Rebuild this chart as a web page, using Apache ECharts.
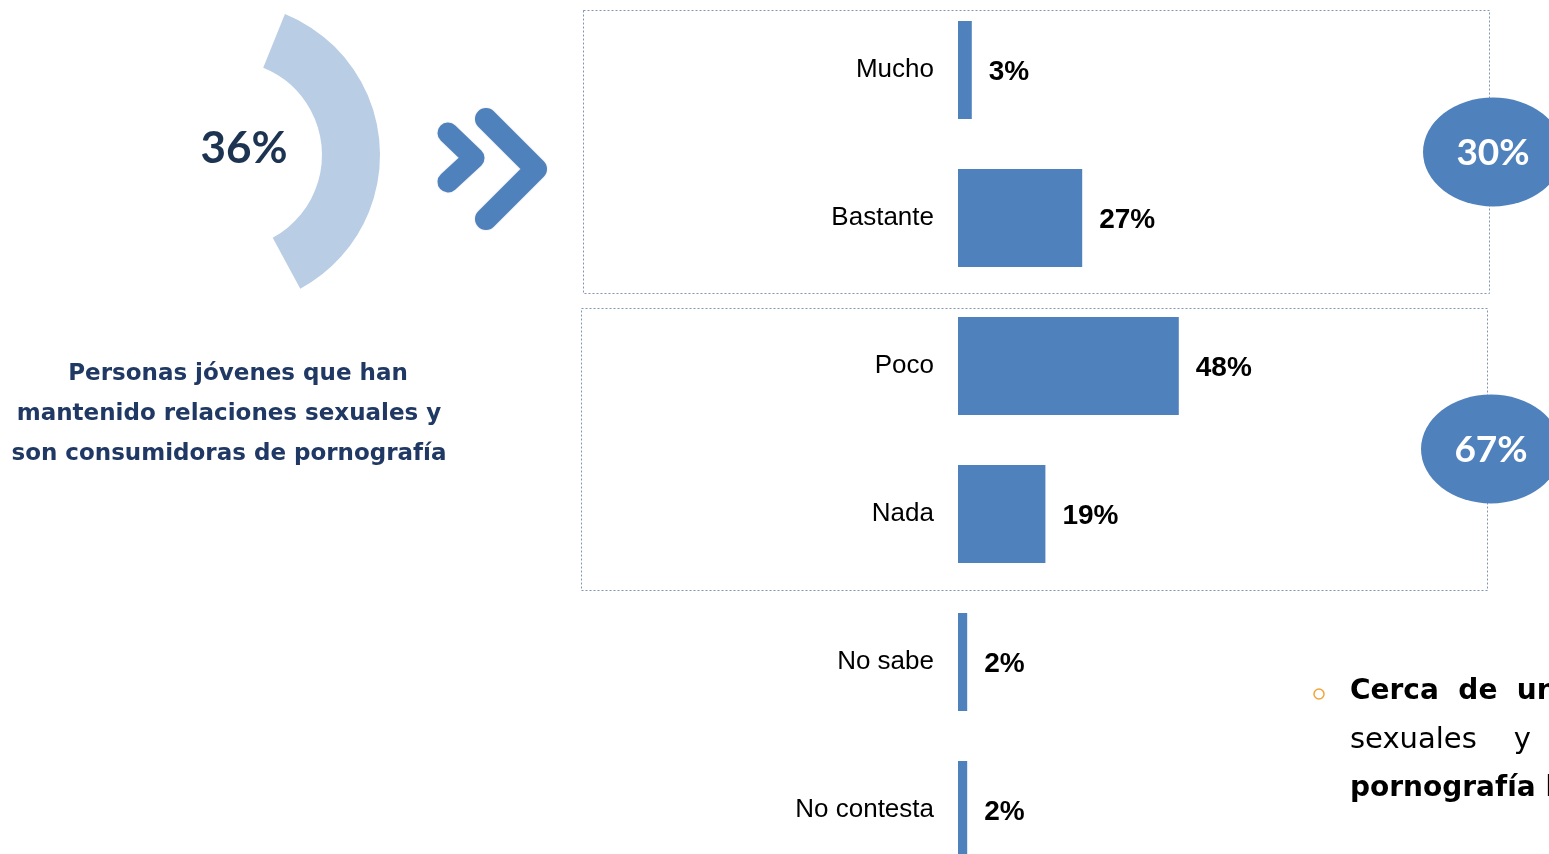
<!DOCTYPE html>
<html>
<head>
<meta charset="utf-8">
<script src="https://cdn.jsdelivr.net/npm/echarts@6/dist/echarts.min.js"></script>
<style>
html,body{margin:0;padding:0;background:#fff;}
#c{width:1549px;height:854px;}
</style>
</head>
<body>
<div id="c"></div>
<script>
// ---- data ----
const categories = ['Mucho', 'Bastante', 'Poco', 'Nada', 'No sabe', 'No contesta'];
const values = [3, 27, 48, 19, 2, 2];
const groupTotals = ['30%', '67%'];
const donutShare = 36;
const donutRest = 64;
const donutLabel = '36%';
const captionLines = ['Personas jóvenes que han', 'mantenido relaciones sexuales y', 'son consumidoras de pornografía'];
const noteLines = [
  {text: 'Cerca  de  un', bold: true},
  {text: 'sexuales    y', bold: false},
  {text: 'pornografía l', bold: true}
];

const barColor = '#4f81bd';
const chart = echarts.init(document.getElementById('c'), null, {renderer: 'canvas'});

function txt(x, y, text, font, fill, align, z) {
  return {
    type: 'text', z: z || 10, silent: true,
    style: {text: text, x: x, y: y, font: font, fill: fill,
      align: align, verticalAlign: 'middle', textAlign: align, textVerticalAlign: 'middle'}
  };
}

const graphics = [];
// dotted group boxes
graphics.push({type: 'rect', z: 1, silent: true, shape: {x: 583.5, y: 10.5, width: 906, height: 283},
  style: {fill: 'none', stroke: '#8395b0', lineWidth: 1, lineDash: [2, 2]}});
graphics.push({type: 'rect', z: 1, silent: true, shape: {x: 581.5, y: 308.5, width: 906, height: 282},
  style: {fill: 'none', stroke: '#8395b0', lineWidth: 1, lineDash: [2, 2]}});
// ellipses with group totals
[[1493, 152], [1491, 449]].forEach(function (p, i) {
  graphics.push({type: 'circle', z: 5, silent: true, x: p[0], y: p[1], scaleX: 70 / 54.5,
    shape: {cx: 0, cy: 0, r: 54.5}, style: {fill: barColor}});
  graphics.push(txt(p[0], p[1] + 1, groupTotals[i], 'bold 37px Lato', '#ffffff', 'center', 6));
});
// chevrons
graphics.push({type: 'polyline', z: 5, silent: true,
  shape: {points: [[448, 133], [474, 158], [448, 182]]},
  style: {stroke: barColor, lineWidth: 21, lineCap: 'round', lineJoin: 'round', fill: 'none',
    shadowBlur: 2, shadowColor: 'rgba(0,0,0,0.15)'}});
graphics.push({type: 'polyline', z: 5, silent: true,
  shape: {points: [[486, 119], [536, 169], [486, 219]]},
  style: {stroke: barColor, lineWidth: 22, lineCap: 'round', lineJoin: 'round', fill: 'none',
    shadowBlur: 2, shadowColor: 'rgba(0,0,0,0.15)'}});
// donut label
graphics.push(txt(244, 149, donutLabel, 'bold 44px Lato', '#1c3452', 'center'));
// caption
captionLines.forEach(function (l, i) {
  graphics.push(txt(i === 0 ? 238 : 229, 374 + i * 40, l, 'bold 23px "DejaVu Sans"', '#203864', 'center'));
});
// note at bottom-right
graphics.push({type: 'circle', z: 5, silent: true, shape: {cx: 1319, cy: 694, r: 5},
  style: {fill: 'none', stroke: '#f0a53a', lineWidth: 1.5}});
noteLines.forEach(function (l, i) {
  graphics.push(txt(1350, 692 + i * 48.5, l.text, (l.bold ? 'bold 28px ' : '29px ') + '"DejaVu Sans"', '#000000', 'left'));
});

const option = {
  animation: false,
  backgroundColor: '#ffffff',
  grid: {left: 958, top: -4, width: 460, height: 888, containLabel: false, outerBoundsMode: 'none'},
  xAxis: {type: 'value', min: 0, max: 100, show: false},
  yAxis: {
    type: 'category', data: categories, inverse: true,
    axisLine: {show: false}, axisTick: {show: false}, splitLine: {show: false},
    axisLabel: {margin: 24, fontSize: 26, color: '#000', padding: [2, 0, 0, 0],
      fontFamily: '"Liberation Sans", Arial, sans-serif'}
  },
  series: [
    {
      type: 'bar', data: values, barWidth: 98, silent: true,
      itemStyle: {color: barColor},
      label: {show: true, position: 'right', distance: 17, offset: [0, 2], formatter: '{c}%',
        fontWeight: 'bold', fontSize: 28, color: '#000', fontFamily: '"Liberation Sans", Arial, sans-serif'}
    },
    {
      type: 'pie', center: [228, 155], radius: [94, 152], startAngle: 68, clockwise: true,
      silent: true, label: {show: false}, labelLine: {show: false},
      emphasis: {disabled: true},
      data: [
        {value: donutShare, itemStyle: {color: '#b9cde5'}},
        {value: donutRest, itemStyle: {color: 'rgba(0,0,0,0)'}}
      ]
    }
  ],
  graphic: {elements: graphics}
};
chart.setOption(option);
</script>
</body>
</html>
